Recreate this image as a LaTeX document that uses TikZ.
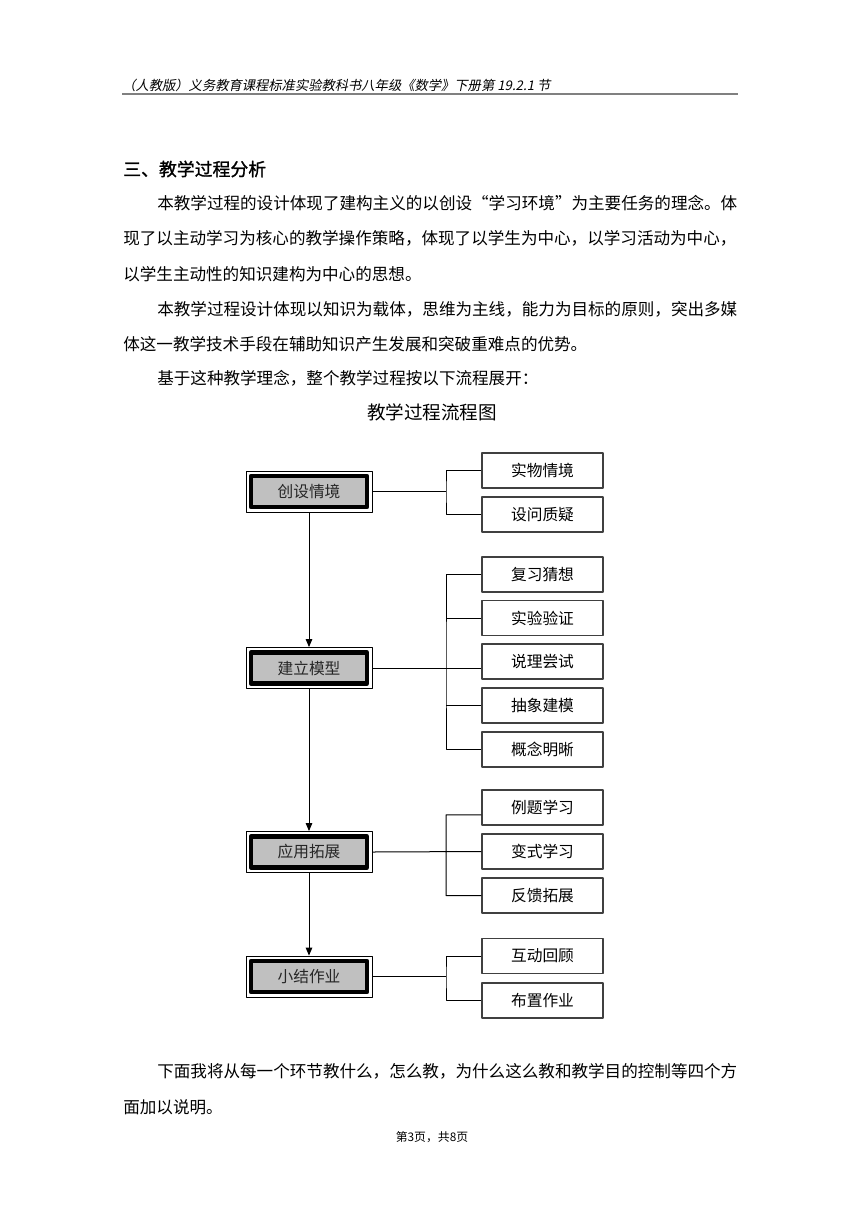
\documentclass[tikz,border=0pt]{standalone}
\usepackage{fontspec}
\setmainfont{Noto Sans CJK SC}
\newfontfamily\slantcjk[FakeSlant=0.2]{Noto Sans CJK SC}
\newfontfamily\headcjk[FakeBold=1.2]{Noto Sans CJK SC}
\usetikzlibrary{arrows.meta,positioning}
\definecolor{boxgray}{HTML}{C0C0C0}
\tikzset{
	stage/.style={draw, line width=.6pt, minimum width=88.2pt, minimum height=28.7pt, inner sep=0pt,
		font=\fontsize{11}{13}\selectfont, text=black!85,
		path picture={\filldraw[fill=boxgray, line width=3pt]
			([shift={(3.5pt,-3.5pt)}]path picture bounding box.north west) rectangle
			([shift={(-3.5pt,3.5pt)}]path picture bounding box.south east);}},
	leaf/.style={draw=black!75, line width=.9pt, minimum width=84.7pt, minimum height=24.5pt, inner sep=0pt,
		font=\fontsize{11}{13}\selectfont},
	line/.style={inner sep=0pt, anchor=west, font=\fontsize{11.6}{14}\selectfont}
}
\begin{document}
\begin{tikzpicture}[x=.7pt, y=-.7pt, line join=round, >={Triangle[length=5.6pt,width=4.6pt]}]
	\useasboundingbox (0,0) rectangle (860,1216);
	% page head
	\node[inner sep=0pt, anchor=south west, font=\slantcjk\fontsize{9.3}{11}\selectfont] (head) at (122,92) {（人教版）义务教育课程标准实验教科书八年级《数学》下册第 19.2.1 节};
	\draw[gray, line width=1pt] (122,94)--(738,94);
	\node[line, font=\headcjk\fontsize{12.5}{15}\selectfont] (sec) at (123,169) {三、教学过程分析};
	\node[line] (p1) at (157,203) {本教学过程的设计体现了建构主义的以创设“学习环境”为主要任务的理念。体};
	\node[line] (p2) at (123,238) {现了以主动学习为核心的教学操作策略，体现了以学生为中心，以学习活动为中心，};
	\node[line] (p3) at (123,274) {以学生主动性的知识建构为中心的思想。};
	\node[line] (p4) at (157,309) {本教学过程设计体现以知识为载体，思维为主线，能力为目标的原则，突出多媒};
	\node[line] (p5) at (123,344) {体这一教学技术手段在辅助知识产生发展和突破重难点的优势。};
	\node[line] (p6) at (157,378) {基于这种教学理念，整个教学过程按以下流程展开：};
	\node[inner sep=0pt, font=\fontsize{13}{15}\selectfont] (title) at (432,412) {教学过程流程图};
	% flow chart
	\node[stage] (s1) at (309,491.5) {创设情境};
	\node[stage] (s2) at (309,668) {建立模型};
	\node[stage] (s3) at (309,852) {应用拓展};
	\node[stage] (s4) at (309,976.5) {小结作业};
	\foreach \n/\y/\t in {a1/470.5/实物情境, a2/514.5/设问质疑, b1/574.5/复习猜想, b2/618/实验验证,
		b3/661.5/说理尝试, b4/705.5/抽象建模, b5/749.5/概念明晰, c1/807.5/例题学习, c2/851.5/变式学习,
		c3/895.5/反馈拓展, d1/956/互动回顾, d2/1000.5/布置作业}
		\node[leaf] (\n) at (542.5,\y) {\t};
	\foreach \i/\y in {1/491.5, 2/668, 3/852, 4/976.5}
		\coordinate (j\i) at (446,\y);
	\draw[->, line width=.7pt] (s1)--(s2);
	\draw[->, line width=.7pt] (s2)--(s3);
	\draw[->, line width=.7pt] (s3)--(s4);
	\draw[line width=.7pt] (s1.east)--(j1) (a1.west)-|(j1)|-(a2.west);
	\draw[line width=.7pt] (s2.east)--(s2.east-|b3.west) (b1.west)-|(j2)|-(b5.west);
	\foreach \n in {b2,b4}\draw[line width=.7pt] (\n.west)--(\n.west-|j2);
	\draw[line width=.7pt] (s3.east)--(c2.west) ([yshift=-5.2pt]c1.west)-|(j3)|-(c3.west);
	\draw[line width=.7pt] (s4.east)--(j4) (d1.west)-|(j4)|-(d2.west);
	% closing lines
	\node[line] (p7) at (157,1071) {下面我将从每一个环节教什么，怎么教，为什么这么教和教学目的控制等四个方};
	\node[line] (p8) at (123,1107) {面加以说明。};
	\node[inner sep=0pt, font=\fontsize{8.3}{10}\selectfont] (foot) at (432,1137) {第3页，共8页};
\end{tikzpicture}
\end{document}
